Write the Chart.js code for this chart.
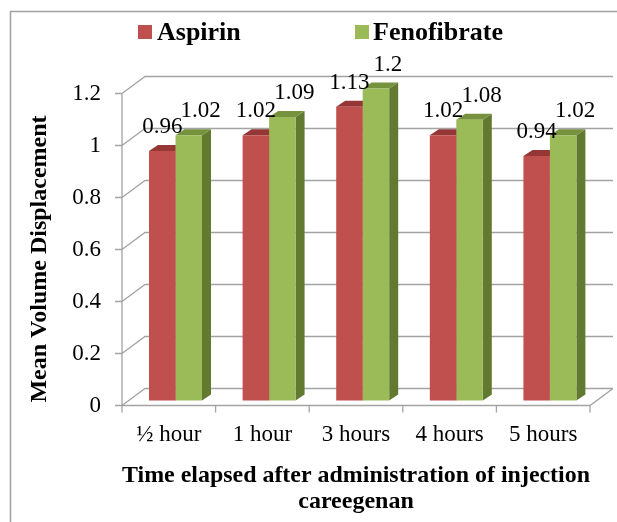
<!DOCTYPE html>
<html>
<head>
<meta charset="utf-8">
<script src="https://cdn.jsdelivr.net/npm/chart.js@4.4.0/dist/chart.umd.min.js"></script>
<style>
    body { margin: 0; background: #ffffff; }
    #wrap { width: 617px; height: 522px; }
</style>
</head>
<body>
<div id="wrap"><canvas id="chart" width="617" height="522"></canvas></div>
<script>
// Chart data
const categories = ['½ hour', '1 hour', '3 hours', '4 hours', '5 hours'];
const aspirinValues = [0.96, 1.02, 1.13, 1.02, 0.94];
const fenofibrateValues = [1.02, 1.09, 1.2, 1.08, 1.02];
const seriesNames = ['Aspirin', 'Fenofibrate'];
const yTicks = [0, 0.2, 0.4, 0.6, 0.8, 1, 1.2];
const yTickLabels = ['0', '0.2', '0.4', '0.6', '0.8', '1', '1.2'];
const yTitle = 'Mean Volume Displacement';
const xTitle = ['Time elapsed after administration of injection', 'careegenan'];

// Colours (front, top, side)
const faceColors = [
    { front: '#C0504D', top: '#953735', side: '#8A302E' },
    { front: '#9BBB59', top: '#76923C', side: '#617A30' }
];

const FONT = '"Liberation Serif", "Times New Roman", serif';
const LINE = '#a3a3a3';

// 3D look: offset of the back wall, of the bars and the bar depth
const wall = { dx: 23, dy: -17 };
const barShift = { dx: 6.7, dy: -5 };
const barDepth = { dx: 9, dy: -6 };

/**
 * Draws walls, floor, axes, bar faces, labels and legend
 */
const threeD = {
    id: 'threeD',
    beforeDraw(chart) {
        const ctx = chart.ctx;
        const area = chart.chartArea;
        const yScale = chart.scales.y;

        ctx.save();
        // outer frame
        ctx.strokeStyle = '#a0a0a0';
        ctx.lineWidth = 1.5;
        ctx.beginPath();
        ctx.moveTo(10.5, 522);
        ctx.lineTo(10.5, 11.5);
        ctx.lineTo(617, 11.5);
        ctx.stroke();

        ctx.strokeStyle = LINE;
        ctx.lineWidth = 1.3;
        ctx.beginPath();
        yTicks.forEach(v => {
            const y = yScale.getPixelForValue(v);
            // side wall line and back wall gridline
            ctx.moveTo(area.left, y);
            ctx.lineTo(area.left + wall.dx, y + wall.dy);
            ctx.lineTo(area.right + wall.dx, y + wall.dy);
            // y tick mark
            ctx.moveTo(area.left - 7, y);
            ctx.lineTo(area.left, y);
        });
        // y axis
        ctx.moveTo(area.left, area.top);
        ctx.lineTo(area.left, area.bottom);
        // floor front edge and right edge
        ctx.moveTo(area.left, area.bottom);
        ctx.lineTo(area.right, area.bottom);
        ctx.lineTo(area.right + wall.dx, area.bottom + wall.dy);
        // x ticks at category boundaries
        const step = (area.right - area.left) / categories.length;
        for (let i = 0; i <= categories.length; i++) {
            const x = area.left + i * step;
            ctx.moveTo(x, area.bottom);
            ctx.lineTo(x, area.bottom + 7);
        }
        ctx.stroke();
        ctx.restore();
    },
    beforeDatasetsDraw(chart) {
        const ctx = chart.ctx;
        ctx.save();
        ctx.translate(barShift.dx, barShift.dy);
        // top and side faces go behind the front faces
        chart.data.datasets.forEach((ds, di) => {
            const meta = chart.getDatasetMeta(di);
            meta.data.forEach(bar => {
                const left = bar.x - bar.width / 2;
                const right = bar.x + bar.width / 2;
                const top = bar.y;
                const base = bar.base;

                ctx.fillStyle = faceColors[di].side;
                ctx.beginPath();
                ctx.moveTo(right, top);
                ctx.lineTo(right + barDepth.dx, top + barDepth.dy);
                ctx.lineTo(right + barDepth.dx, base + barDepth.dy);
                ctx.lineTo(right, base);
                ctx.closePath();
                ctx.fill();

                ctx.fillStyle = faceColors[di].top;
                ctx.beginPath();
                ctx.moveTo(left, top);
                ctx.lineTo(right, top);
                ctx.lineTo(right + barDepth.dx, top + barDepth.dy);
                ctx.lineTo(left + barDepth.dx, top + barDepth.dy);
                ctx.closePath();
                ctx.fill();
            });
        });
    },
    afterDatasetsDraw(chart) {
        const ctx = chart.ctx;
        ctx.restore();

        // value labels
        ctx.save();
        ctx.font = '23px ' + FONT;
        ctx.fillStyle = '#000000';
        ctx.textAlign = 'center';
        ctx.textBaseline = 'alphabetic';
        chart.data.datasets.forEach((ds, di) => {
            const meta = chart.getDatasetMeta(di);
            meta.data.forEach((bar, i) => {
                const x = bar.x + barShift.dx + (di === 1 ? 12 : 0);
                const y = bar.y + barShift.dy - 18;
                ctx.fillText(String(ds.data[i]), x, y);
            });
        });
        ctx.restore();
    },
    afterDraw(chart) {
        const ctx = chart.ctx;
        ctx.save();
        // legend
        const legendPos = [{ box: 138, text: 157 }, { box: 355, text: 373 }];
        ctx.font = 'bold 26px ' + FONT;
        ctx.textBaseline = 'alphabetic';
        ctx.textAlign = 'left';
        seriesNames.forEach((name, i) => {
            ctx.fillStyle = faceColors[i].front;
            ctx.fillRect(legendPos[i].box, 25, 14, 14);
            ctx.fillStyle = '#000000';
            ctx.fillText(name, legendPos[i].text, 40);
        });

        // y axis title
        ctx.font = 'bold 24px ' + FONT;
        ctx.textAlign = 'center';
        ctx.textBaseline = 'middle';
        ctx.translate(40, 259);
        ctx.rotate(-Math.PI / 2);
        ctx.fillText(yTitle, 0, 0);
        ctx.restore();
    }
};

const ctx = document.getElementById('chart').getContext('2d');
const chart = new Chart(ctx, {
    type: 'bar',
    data: {
        labels: categories,
        datasets: [
            {
                label: seriesNames[0],
                data: aspirinValues,
                backgroundColor: faceColors[0].front,
                borderWidth: 0,
                clip: false
            },
            {
                label: seriesNames[1],
                data: fenofibrateValues,
                backgroundColor: faceColors[1].front,
                borderWidth: 0,
                clip: false
            }
        ]
    },
    options: {
        responsive: false,
        animation: false,
        events: [],
        categoryPercentage: 0.566,
        barPercentage: 1,
        layout: {
            padding: { left: 0, right: 27, top: 93.5, bottom: 0 }
        },
        plugins: {
            legend: { display: false },
            tooltip: { enabled: false }
        },
        scales: {
            x: {
                grid: { display: false, drawTicks: false },
                border: { display: false },
                ticks: {
                    color: '#000000',
                    padding: 16,
                    maxRotation: 0,
                    autoSkip: false,
                    font: { family: FONT, size: 23 }
                },
                title: {
                    display: true,
                    text: xTitle,
                    color: '#000000',
                    font: { family: FONT, size: 24, weight: 'bold', lineHeight: 1.08 },
                    padding: { top: 0, bottom: 7 }
                },
                afterFit(scale) {
                    scale.height = 116.5;
                }
            },
            y: {
                min: 0,
                max: 1.2,
                grid: { display: false, drawTicks: false },
                border: { display: false },
                afterBuildTicks(scale) {
                    scale.ticks = yTicks.map(v => ({ value: v }));
                },
                ticks: {
                    color: '#000000',
                    padding: 21,
                    font: { family: FONT, size: 23 },
                    callback: function(value, index) {
                        return yTickLabels[index];
                    }
                },
                afterFit(scale) {
                    scale.width = 122;
                }
            }
        }
    },
    plugins: [threeD]
});
</script>
</body>
</html>
